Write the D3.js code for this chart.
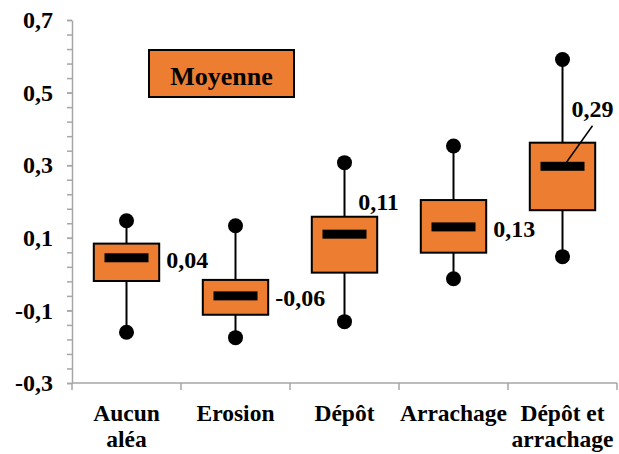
<!DOCTYPE html>
<html>
<head>
<meta charset="utf-8">
<script src="https://cdn.jsdelivr.net/npm/d3@7"></script>
</head>
<body style="margin:0;background:#fff">
<svg id="chart" width="619" height="454" style="display:block"></svg>
<script>
// ---- Data ----
const categories = [["Aucun", "aléa"], ["Erosion"], ["Dépôt"], ["Arrachage"], ["Dépôt et", "arrachage"]];
const whiskerMin = [-0.160, -0.175, -0.131, -0.013, 0.048];
const q1 = [-0.019, -0.112, 0.004, 0.059, 0.176];
const median = [0.045, -0.060, 0.110, 0.130, 0.297];
const q3 = [0.084, -0.016, 0.158, 0.204, 0.362];
const whiskerMax = [0.147, 0.133, 0.307, 0.353, 0.591];
const meanLabels = ["0,04", "-0,06", "0,11", "0,13", "0,29"];
const yTickValues = [-0.3, -0.1, 0.1, 0.3, 0.5, 0.7];
const legendTitle = "Moyenne";

// label placement (style only)
const labelPlacement = ["right", "right", "above", "right", "leader"];

// ---- Layout ----
const FF = "Liberation Serif";
const svg = d3.select("#chart");
const margin = { left: 72, top: 20, bottom: 383, right: 617 };
const fmt = v => d3.format(".1f")(v).replace(".", ",").replace("−", "-");

const keys = categories.map((c, i) => i);
const x = d3.scaleBand().domain(keys).range([margin.left, margin.right]).paddingInner(0).paddingOuter(0);
const y = d3.scaleLinear().domain([-0.3, 0.7]).range([margin.bottom, margin.top]);

const axisColor = "#A6A6A6";
const setFont = (sel, size) => sel
  .attr("font-family", FF).attr("font-weight", "bold").attr("font-size", size).attr("fill", "#000");

// Y axis minor ticks
const minorVals = d3.range(0, 26).map(i => -0.3 + i * 0.04);
svg.append("g")
  .attr("transform", `translate(${margin.left},0)`)
  .call(d3.axisLeft(y).tickValues(minorVals).tickFormat("").tickSize(5).tickSizeOuter(0))
  .call(g => g.select(".domain").remove())
  .call(g => g.selectAll("line").attr("stroke", axisColor).attr("stroke-width", 1.5));

// Y axis major (line + ticks)
svg.append("g")
  .attr("transform", `translate(${margin.left},0)`)
  .call(d3.axisLeft(y).tickValues(yTickValues).tickFormat("").tickSize(5).tickSizeOuter(0))
  .call(g => g.select(".domain").attr("stroke", axisColor).attr("stroke-width", 1.5))
  .call(g => g.selectAll("line").attr("stroke", axisColor).attr("stroke-width", 1.5));

// Y tick labels
const yl = svg.append("g").selectAll("text").data(yTickValues).enter().append("text")
  .attr("x", margin.left - 19).attr("y", d => y(d)).attr("dy", "0.34em")
  .attr("text-anchor", "end").text(fmt);
setFont(yl, 24);

// X axis line and ticks at band boundaries
const xg = svg.append("g");
xg.append("line")
  .attr("x1", margin.left).attr("x2", margin.right)
  .attr("y1", y(-0.3)).attr("y2", y(-0.3))
  .attr("stroke", axisColor).attr("stroke-width", 1.5);
const boundaries = keys.map(k => x(k)).concat([x(keys[keys.length - 1]) + x.bandwidth()]);
xg.selectAll("line.tick").data(boundaries).enter().append("line")
  .attr("class", "tick")
  .attr("x1", d => d).attr("x2", d => d)
  .attr("y1", y(-0.3)).attr("y2", y(-0.3) + 7)
  .attr("stroke", axisColor).attr("stroke-width", 1.5);

// X labels (one text per line)
categories.forEach((lines, i) => {
  const cx = x(i) + x.bandwidth() / 2;
  lines.forEach((ln, j) => {
    const t = xg.append("text").attr("x", cx).attr("y", y(-0.3) + 38 + j * 26)
      .attr("text-anchor", "middle").text(ln);
    setFont(t, 23.5);
  });
});

// ---- Boxes ----
const boxW = x.bandwidth() * 0.6;
const g = svg.append("g");
keys.forEach(i => {
  const cx = x(i) + x.bandwidth() / 2;
  g.append("line").attr("x1", cx).attr("x2", cx).attr("y1", y(whiskerMax[i])).attr("y2", y(q3[i]))
    .attr("stroke", "#000").attr("stroke-width", 2);
  g.append("line").attr("x1", cx).attr("x2", cx).attr("y1", y(q1[i])).attr("y2", y(whiskerMin[i]))
    .attr("stroke", "#000").attr("stroke-width", 2);
  g.append("circle").attr("cx", cx).attr("cy", y(whiskerMax[i])).attr("r", 7.5).attr("fill", "#000");
  g.append("circle").attr("cx", cx).attr("cy", y(whiskerMin[i])).attr("r", 7.5).attr("fill", "#000");
  g.append("rect")
    .attr("x", cx - boxW / 2).attr("width", boxW)
    .attr("y", y(q3[i])).attr("height", y(q1[i]) - y(q3[i]))
    .attr("fill", "#ED7D31").attr("stroke", "#000").attr("stroke-width", 2);
  g.append("rect")
    .attr("x", cx - 22).attr("width", 44)
    .attr("y", y(median[i]) - 4.5).attr("height", 9)
    .attr("fill", "#000");
  const place = labelPlacement[i];
  const lab = g.append("text").text(meanLabels[i]);
  setFont(lab, 24);
  if (place === "right") {
    lab.attr("x", cx + boxW / 2 + 7).attr("y", y(median[i]) + 10);
  } else if (place === "above") {
    lab.attr("x", cx + boxW / 2 - 19).attr("y", y(q3[i]) - 7);
  } else {
    lab.attr("x", cx + 9).attr("y", y(q3[i]) - 26);
    g.append("line")
      .attr("x1", cx + 30).attr("y1", y(q3[i]) - 17)
      .attr("x2", cx + 4).attr("y2", y(median[i]) - 4)
      .attr("stroke", "#000").attr("stroke-width", 1.5);
  }
});

// ---- Legend title box ----
const lg = svg.append("g");
lg.append("rect").attr("x", 149).attr("y", 50).attr("width", 145).attr("height", 47)
  .attr("fill", "#ED7D31").attr("stroke", "#000").attr("stroke-width", 2);
const lt = lg.append("text").attr("x", 221.5).attr("y", 85).attr("text-anchor", "middle").text(legendTitle);
setFont(lt, 26);
</script>
</body>
</html>
